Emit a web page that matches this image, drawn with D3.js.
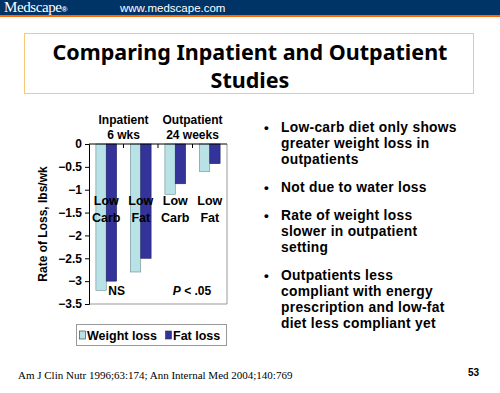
<!DOCTYPE html>
<html>
<head>
<meta charset="utf-8">
<script src="https://cdn.jsdelivr.net/npm/d3@7"></script>
<style>
  body { margin: 0; background: #fff; }
  svg { display: block; }
</style>
</head>
<body>
<div id="slide"></div>
<script>
// data
const categories = ["inLowCarb", "inLowFat", "outLowCarb", "outLowFat"];
const catLabels = [["Low", "Carb"], ["Low", "Fat"], ["Low", "Carb"], ["Low", "Fat"]];
const weightLoss = [-3.2, -2.8, -1.1, -0.6];
const fatLoss = [-3.0, -2.5, -0.87, -0.43];
const seriesNames = ["Weight loss", "Fat loss"];
const yTicks = [0, -0.5, -1, -1.5, -2, -2.5, -3, -3.5];
const bullets = [
  ["Low-carb diet only shows", "greater weight loss in", "outpatients"],
  ["Not due to water loss"],
  ["Rate of weight loss", "slower in outpatient", "setting"],
  ["Outpatients less", "compliant with energy", "prescription and low-fat", "diet less compliant yet"]
];

const W = 500, H = 393;
const svg = d3.select("#slide").append("svg")
    .attr("width", W)
    .attr("height", H);

// header band
svg.append("rect").attr("x", 0).attr("y", 0).attr("width", W).attr("height", 15).attr("fill", "#003366");
svg.append("rect").attr("x", 0).attr("y", 15).attr("width", W).attr("height", 2).attr("fill", "#ff6600");
svg.append("text").attr("x", 4).attr("y", 12)
    .attr("font-family", "Liberation Serif").attr("font-size", "15px").attr("fill", "#fff")
    .attr("letter-spacing", "-0.4px")
    .text("Medscape")
    .append("tspan").attr("font-family", "Liberation Sans").attr("font-size", "8px").attr("font-weight", "bold").text("®");
svg.append("text").attr("x", 120).attr("y", 12)
    .attr("font-family", "Liberation Sans").attr("font-size", "11.5px").attr("fill", "#fff")
    .text("www.medscape.com");

// title box
svg.append("rect").attr("x", 24.5).attr("y", 33.5).attr("width", 449).attr("height", 60)
    .attr("fill", "none").attr("stroke", "#f8c878").attr("stroke-width", 1);
svg.append("text").attr("x", 250).attr("y", 60)
    .attr("text-anchor", "middle").attr("font-family", "Noto Sans").attr("font-weight", "bold")
    .attr("font-size", "21.5px").attr("fill", "#000")
    .selectAll("tspan").data(["Comparing Inpatient and Outpatient", "Studies"]).enter()
    .append("tspan").attr("x", 250).attr("dy", (d, i) => i ? 28 : 0).text(d => d);

// chart
const plot = {left: 89, right: 227, top: 144, bottom: 304};

const x = d3.scaleBand()
    .domain(categories)
    .range([plot.left, plot.right])
    .paddingInner(0.4)
    .paddingOuter(0.2);

const xSub = d3.scaleBand()
    .domain(seriesNames)
    .range([0, x.bandwidth()]);

const y = d3.scaleLinear()
    .domain([0, -3.5])
    .range([plot.top, plot.bottom]);

const color = d3.scaleOrdinal()
    .domain(seriesNames)
    .range(["#b8e2e6", "#333399"]);

// plot area border
svg.append("path")
    .attr("d", `M${plot.right},${plot.top}V${plot.bottom}H${plot.left}`)
    .attr("fill", "none").attr("stroke", "#999").attr("stroke-width", 1);

const rows = categories.map((c, i) => ({cat: c, values: [weightLoss[i], fatLoss[i]]}));

svg.append("g").selectAll("g")
    .data(rows)
    .enter()
    .append("g")
    .attr("transform", d => `translate(${x(d.cat)},0)`)
    .selectAll("rect")
    .data(d => d.values.map((v, j) => ({key: seriesNames[j], v})))
    .enter()
    .append("rect")
    .attr("x", d => xSub(d.key))
    .attr("y", y(0))
    .attr("width", xSub.bandwidth())
    .attr("height", d => y(d.v) - y(0))
    .attr("fill", d => color(d.key))
    .attr("stroke", d => d.key === "Fat loss" ? "#222266" : "#6a8a90")
    .attr("stroke-width", 0.6);

// y axis
const yAxis = svg.append("g")
    .attr("transform", `translate(${plot.left},0)`)
    .call(d3.axisLeft(y).tickValues(yTicks).tickSize(4).tickFormat(d3.format("")));
yAxis.selectAll("text")
    .attr("font-family", "Liberation Sans").attr("font-weight", "bold").attr("font-size", "12px")
    .attr("fill", "#000").attr("x", -7);
yAxis.selectAll("line,path").attr("stroke", "#000");

// category axis at zero, ticks between groups
svg.append("line")
    .attr("x1", plot.left).attr("x2", plot.right).attr("y1", y(0)).attr("y2", y(0))
    .attr("stroke", "#000");
svg.append("g").selectAll("line")
    .data(categories.slice(1))
    .enter().append("line")
    .attr("x1", d => x(d) - x.step() * x.paddingInner() / 2)
    .attr("x2", d => x(d) - x.step() * x.paddingInner() / 2)
    .attr("y1", y(0)).attr("y2", y(0) + 4)
    .attr("stroke", "#000");

// category labels inside bars
const lbl = svg.append("g")
    .attr("font-family", "Liberation Sans").attr("font-weight", "bold").attr("font-size", "12.5px").attr("fill", "#000");
lbl.selectAll("text")
    .data(categories)
    .enter().append("text")
    .attr("text-anchor", "middle")
    .attr("x", d => x(d) + x.bandwidth() / 2)
    .attr("y", 205)
    .selectAll("tspan")
    .data((d, i) => catLabels[i])
    .enter().append("tspan")
    .attr("x", function() { return this.parentNode.getAttribute("x"); })
    .attr("dy", (d, i) => i ? 17 : 0)
    .text(d => d);

// group headers
const heads = [["Inpatient", "6 wks", categories.slice(0, 2)], ["Outpatient", "24 weeks", categories.slice(2)]];
heads.forEach(h => {
  const cx = (x(h[2][0]) + x(h[2][1]) + x.bandwidth()) / 2;
  const t = svg.append("text").attr("text-anchor", "middle")
      .attr("font-family", "Liberation Sans").attr("font-weight", "bold").attr("font-size", "12px").attr("fill", "#000");
  t.append("tspan").attr("x", cx).attr("y", 124).text(h[0]);
  t.append("tspan").attr("x", cx).attr("y", 139).text(h[1]);
});

// significance notes
svg.append("text").attr("x", x(categories[0]) + x.bandwidth() / 2 + 2).attr("y", 295)
    .attr("font-family", "Liberation Sans").attr("font-weight", "bold").attr("font-size", "12px").text("NS");
const p = svg.append("text").attr("x", (x(categories[2]) + x(categories[3]) + x.bandwidth()) / 2 - 0.5).attr("y", 295)
    .attr("text-anchor", "middle")
    .attr("font-family", "Liberation Sans").attr("font-weight", "bold").attr("font-size", "12px");
p.append("tspan").attr("font-style", "italic").text("P");
p.append("tspan").text(" <  .05");

// y label
svg.append("text")
    .attr("transform", `translate(47,${(plot.top + plot.bottom) / 2}) rotate(-90)`)
    .attr("text-anchor", "middle")
    .attr("font-family", "Liberation Sans").attr("font-weight", "bold").attr("font-size", "12px")
    .text("Rate of Loss, lbs/wk");

// legend
const legend = svg.append("g").attr("transform", "translate(76,324)");
legend.append("rect").attr("x", 0.5).attr("y", 0.5).attr("width", 150).attr("height", 21)
    .attr("fill", "#fff").attr("stroke", "#999");
const items = legend.selectAll("g.item")
    .data(seriesNames)
    .enter().append("g")
    .attr("transform", (d, i) => `translate(${i ? 89 : 3},0)`);
items.append("rect").attr("x", 0.5).attr("y", 7).attr("width", 6).attr("height", 8)
    .attr("fill", d => color(d)).attr("stroke", "#333").attr("stroke-width", 0.6);
items.append("text").attr("x", 8).attr("y", 16)
    .attr("font-family", "Liberation Sans").attr("font-weight", "bold").attr("font-size", "12.5px")
    .text(d => d);

// bullets
const bulletTop = [132, 192, 220, 280];
bullets.forEach((lines, bi) => {
  svg.append("text").attr("x", 264).attr("y", bulletTop[bi])
      .attr("font-family", "Liberation Sans").attr("font-weight", "bold").attr("font-size", "13.5px").text("•");
  const t = svg.append("text")
      .attr("font-family", "Liberation Sans").attr("font-weight", "bold").attr("font-size", "13.8px")
      .attr("letter-spacing", "0.3px").attr("fill", "#000");
  lines.forEach((l, li) => {
    t.append("tspan").attr("x", 281).attr("y", bulletTop[bi] + li * 16).text(l);
  });
});

// footer
svg.append("text").attr("x", 18).attr("y", 379)
    .attr("font-family", "Liberation Serif").attr("font-size", "11px")
    .text("Am J Clin Nutr 1996;63:174; Ann Internal Med 2004;140:769");
svg.append("text").attr("x", 468).attr("y", 376)
    .attr("font-family", "Liberation Sans").attr("font-weight", "bold").attr("font-size", "10px")
    .text("53");
</script>
</body>
</html>
